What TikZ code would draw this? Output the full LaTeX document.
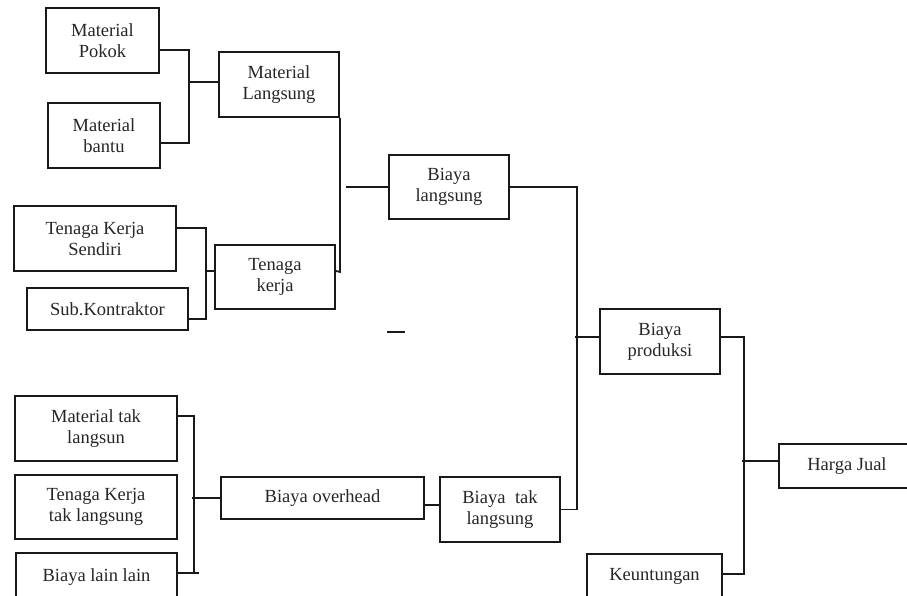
\documentclass[tikz,border=0pt]{standalone}
\usepackage{fontspec}
\setmainfont{Liberation Serif}
\begin{document}
\begin{tikzpicture}[x=1pt,y=-1pt,
  box/.style={draw=black!90, line width=1.8pt, inner sep=0pt, align=center,
    font=\fontsize{18.5}{21}\selectfont, text=black!85},
  conn/.style={draw=black!90, line width=1.8pt}]
\useasboundingbox (0,0) rectangle (907,595);
\clip (0,0) rectangle (907,595);
% boxes
\node[box, minimum width=113pt, minimum height=65pt] (mp) at (102.5,40.5) {Material\\Pokok};
\node[box, minimum width=112pt, minimum height=65pt] (mb) at (104,135.5) {Material\\bantu};
\node[box, minimum width=120pt, minimum height=65pt] (ml) at (279,84.5) {Material\\Langsung};
\node[box, minimum width=162pt, minimum height=65pt] (tks) at (95,238.5) {Tenaga Kerja\\Sendiri};
\node[box, minimum width=161pt, minimum height=42pt] (sk) at (107.5,309) {Sub.Kontraktor};
\node[box, minimum width=120pt, minimum height=64pt] (tk) at (275,277) {Tenaga\\kerja};
\node[box, minimum width=120pt, minimum height=64pt] (bl) at (449,187) {Biaya\\langsung};
\node[box, minimum width=120pt, minimum height=65pt] (bp) at (660,341.5) {Biaya\\produksi};
\node[box, minimum width=162pt, minimum height=65pt] (mtl) at (96,428.5) {Material tak\\langsun};
\node[box, minimum width=162pt, minimum height=64pt] (tktl) at (96,507) {Tenaga Kerja\\tak langsung};
\node[box, minimum width=161pt, minimum height=48pt] (bll) at (96.5,577) {Biaya lain lain};
\node[box, minimum width=203pt, minimum height=42pt] (bo) at (322.5,498) {Biaya overhead};
\node[box, minimum width=120pt, minimum height=65pt] (btl) at (500,509.5) {Biaya\hspace{0.52em}tak\\langsung};
\node[box, minimum width=135pt, minimum height=44pt] (ku) at (654.5,576) {Keuntungan};
\node[box, minimum width=136pt, minimum height=44pt] (hj) at (847,466) {Harga Jual};
% connectors
\coordinate (b1t) at (189,50);
\coordinate (b1b) at (189,143);
\draw[conn] (mp.east |- b1t) -- (b1t) -- (b1b) -- (mb.east |- b1b);
\draw[conn] ([yshift=2.5pt]ml.west) -- ++(-30,0);
\draw[conn] (ml.south east) -- ++(0,154) -- ([yshift=6pt]tk.east);
\coordinate (b2t) at (206,228);
\coordinate (b2b) at (206,319);
\draw[conn] (tks.east |- b2t) -- (b2t) -- (b2b) -- (sk.east |- b2b);
\draw[conn] ([yshift=6pt]tk.west) -- ++(-9,0);
\draw[conn] (bl.west) -- ++(-42,0);
\coordinate (d1) at (387,332);
\draw[conn] (d1) -- ++(18,0);
\draw[conn] (bl.east) -| ([xshift=16pt]btl.east) -- (btl.east);
\draw[conn] ([yshift=4.5pt]bp.west) -- ++(-24,0);
\draw[conn] ([yshift=4.5pt]bp.east) -| ([xshift=21pt,yshift=2pt]ku.east) -- ([yshift=2pt]ku.east);
\draw[conn] ([yshift=5pt]hj.west) -- ++(-36,0);
\draw[conn] ([yshift=12.5pt]mtl.east) -| ([xshift=16pt,yshift=4pt]bll.east);
\draw[conn] ([yshift=4pt]bll.east) -- ++(21,0);
\draw[conn] (bo.west) -- ++(-28,0);
\draw[conn] ([yshift=-7pt]bo.east) -- ([yshift=-7pt]bo.east -| btl.west);
\end{tikzpicture}
\end{document}
